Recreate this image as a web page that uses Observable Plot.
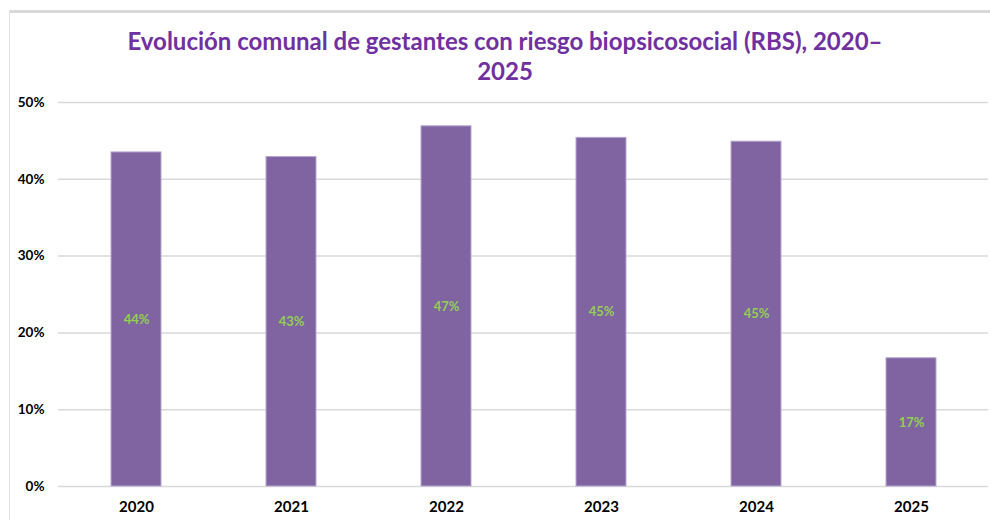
<!DOCTYPE html>
<html>
<head>
<meta charset="utf-8">
<script src="https://cdn.jsdelivr.net/npm/d3@7"></script>
<script src="https://cdn.jsdelivr.net/npm/@observablehq/plot@0.6"></script>
<style>
  html, body { margin: 0; padding: 0; background: #fff; width: 990px; height: 520px; overflow: hidden; }
  #frame { position: absolute; left: 9px; top: 10px; width: 990px; height: 520px; border-top: 3px solid #d9d9d9; border-left: 1px solid #e3e3e3; }
  #title { position: absolute; left: 10px; top: 26px; width: 990px; text-align: center; font-family: Lato, "Open Sans", sans-serif; font-weight: bold; font-size: 24px; line-height: 30px; color: #7030A0; }
  #chart { position: absolute; left: 0; top: 90px; }
</style>
</head>
<body>
<div id="frame"></div>
<div id="title">Evolución comunal de gestantes con riesgo biopsicosocial (RBS), 2020–<br>2025</div>
<div id="chart"></div>
<script>
const years = ["2020", "2021", "2022", "2023", "2024", "2025"];
const values = [0.435, 0.429, 0.469, 0.454, 0.449, 0.167];
const valueLabels = ["44%", "43%", "47%", "45%", "45%", "17%"];
const yTicks = [0, 0.1, 0.2, 0.3, 0.4, 0.5];

const data = years.map((y, i) => ({year: y, value: values[i], label: valueLabels[i]}));

const chart = Plot.plot({
  width: 990,
  height: 430,
  marginLeft: 58,
  marginRight: 2,
  marginTop: 12,
  marginBottom: 34,
  style: {fontFamily: "Lato, 'Open Sans', sans-serif", fontSize: "13.5px", fontWeight: "bold", color: "#000", background: "transparent"},
  x: {domain: years, paddingInner: 0.68, paddingOuter: 0.34, label: null},
  y: {domain: [0, 0.5], ticks: yTicks, tickFormat: d => Math.round(d * 100) + "%", label: null, tickSize: 0, tickPadding: 14},
  marks: [
    Plot.gridY(yTicks, {stroke: "#d9d9d9", strokeOpacity: 1, strokeWidth: 1.5}),
    Plot.barY(data, {x: "year", y: "value", fill: "#8064A2", stroke: "#b9a7d1", strokeWidth: 1}),
    Plot.text(data, {x: "year", y: d => d.value / 2, text: "label", fill: "#92D050", fontWeight: "bold", fontSize: 13}),
    Plot.axisX({tickSize: 0, tickPadding: 15, fontSize: 15, label: null})
  ]
});
document.getElementById("chart").appendChild(chart);
</script>
</body>
</html>
